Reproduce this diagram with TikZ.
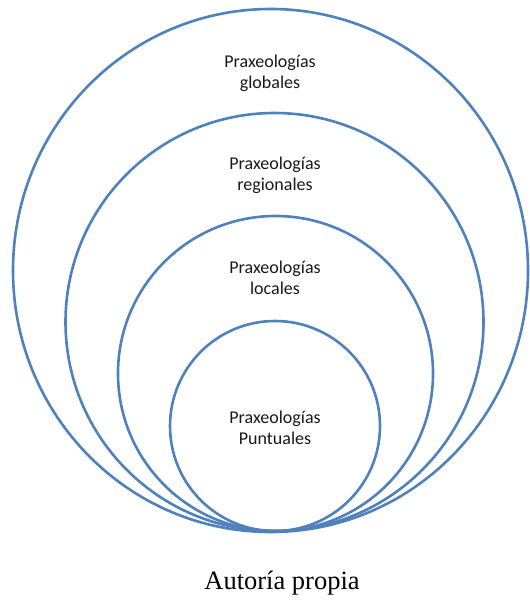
\documentclass[tikz,border=0pt]{standalone}
\usepackage{fontspec}
\setmainfont{Liberation Serif}
\newfontfamily\labelfont{Carlito}
\begin{document}
\begin{tikzpicture}[x=1pt,y=-1pt,
  ring/.style={draw=ringblue,line width=2.6pt},
  lvl/.style={font=\labelfont\fontsize{18}{21}\selectfont,align=center,text=black!90},
  caption/.style={font=\fontsize{26.5}{30}\selectfont}]
\definecolor{ringblue}{HTML}{4F81BD}
\useasboundingbox (0,0) rectangle (529,601);
% nested rings sharing a common lowest point
\draw[ring] (270.5,270.5) ellipse [x radius=257.5, y radius=261.5];
\draw[ring] (274.5,322) circle [radius=209];
\draw[ring] (275.5,373.5) circle [radius=157.5];
\draw[ring] (275,426) circle [radius=105];
% level labels
\node[lvl] (glob) at (270,73.5) {Praxeologías\\globales};
\node[lvl] (reg) at (275,175.5) {Praxeologías\\regionales};
\node[lvl] (loc) at (275,277.5) {Praxeologías\\locales};
\node[lvl] (punt) at (275,427.5) {Praxeologías\\Puntuales};
\node[caption] (cap) at (282,583) {Autoría propia};
\end{tikzpicture}
\end{document}
